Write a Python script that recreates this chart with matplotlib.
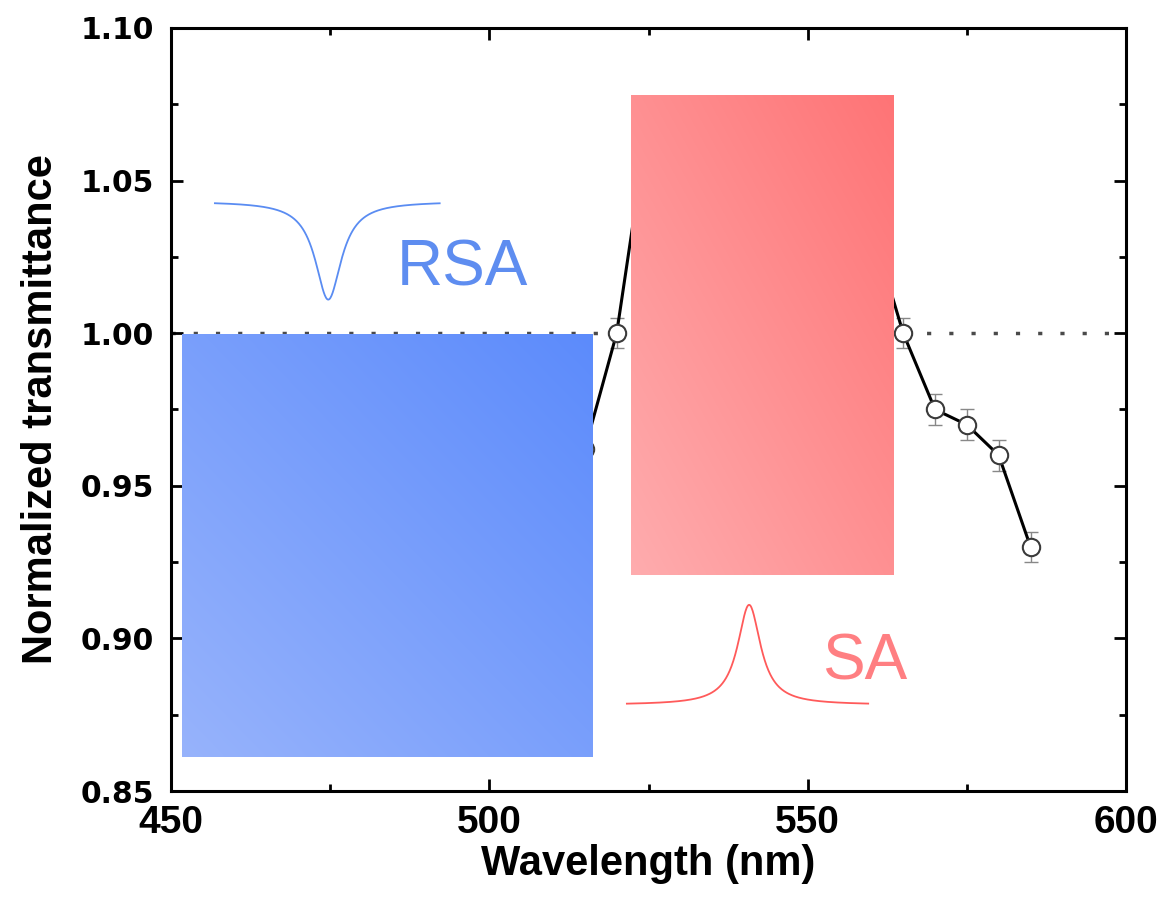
import numpy as np
import matplotlib
matplotlib.use("Agg")
import matplotlib.pyplot as plt
from matplotlib.ticker import MultipleLocator, FormatStrFormatter

# ---------------- data ----------------
wavelength = [455, 460, 465, 470, 475, 480, 485, 490, 495, 500, 505, 510, 515,
              520, 525, 530, 535, 540, 545, 550, 555, 560, 565, 570, 575, 580, 585]
transmittance = [0.985, 0.975, 0.965, 0.955, 0.945, 0.935, 0.93, 0.925, 0.93, 0.935, 0.945, 0.952, 0.962,
                 1.000, 1.070, 1.065, 1.055, 1.050, 1.045, 1.040, 1.040, 1.035, 1.000, 0.975, 0.970, 0.960, 0.930]
error = [0.005] * len(wavelength)

reference_level = 1.00
x_ticks = [450, 500, 550, 600]
y_ticks = [0.85, 0.90, 0.95, 1.00, 1.05, 1.10]

# overlay boxes (data coordinates): x0, x1, y0, y1
rsa_box = (451.7, 516.1, 0.861, 0.9995)
sa_box = (522.2, 563.4, 0.9208, 1.078)
rsa_colors = ("#97b3fb", "#5c8bfc")   # bottom-left, top-right
sa_colors = ("#feacae", "#ff7476")

# schematic Lorentzian icons: center, half width, x-range, baseline, extremum
rsa_icon = dict(center=474.7, hwhm=2.5, x0=456.9, x1=492.2, base=1.0432, tip=1.0110)
sa_icon = dict(center=540.8, hwhm=2.2, x0=521.6, x1=559.5, base=0.8782, tip=0.9110)

# ---------------- figure ----------------
fig = plt.figure(figsize=(11.64, 8.99), dpi=100)
ax = fig.add_axes([0.1469, 0.1201, 0.8205, 0.8488])

ax.axhline(reference_level, color="#4a4a4a", lw=2.5, linestyle=(0, (1.2, 5.2)), zorder=1)

ax.errorbar(wavelength, transmittance, yerr=error, fmt="none", ecolor="#888888",
            elinewidth=1.0, capsize=5, capthick=1.0, zorder=2)
ax.plot(wavelength, transmittance, color="black", lw=2.2, zorder=2)
ax.plot(wavelength, transmittance, linestyle="none", marker="o", markersize=12.5,
        markerfacecolor="white", markeredgecolor="#3a3a3a", markeredgewidth=1.5, zorder=2.5)


def gradient_box(box, colors):
    x0, x1, y0, y1 = box
    n = 200
    u, v = np.meshgrid(np.linspace(0, 1, n), np.linspace(0, 1, n))
    t = (u + v) / 2.0
    c0 = np.array(matplotlib.colors.to_rgb(colors[0]))
    c1 = np.array(matplotlib.colors.to_rgb(colors[1]))
    img = c0[None, None, :] + (c1 - c0)[None, None, :] * t[:, :, None]
    ax.imshow(img, extent=[x0, x1, y0, y1], origin="lower", aspect="auto",
              zorder=3, interpolation="bilinear")


gradient_box(rsa_box, rsa_colors)
gradient_box(sa_box, sa_colors)


def icon(p, color):
    xs = np.linspace(p["x0"], p["x1"], 400)
    prof = 1.0 / (1.0 + ((xs - p["center"]) / p["hwhm"]) ** 2)
    ys = p["base"] + (p["tip"] - p["base"]) * prof
    ax.plot(xs, ys, color=color, lw=1.3, zorder=4)


icon(rsa_icon, "#5a8cf2")
icon(sa_icon, "#ff5a5a")

ax.text(485.4, 1.0155, "RSA", color="#5e8df0", fontsize=46, family="Liberation Sans",
        ha="left", va="baseline", zorder=5)
ax.text(552.2, 0.8864, "SA", color="#ff7f82", fontsize=46, family="Liberation Sans",
        ha="left", va="baseline", zorder=5)

ax.set_xlim(450, 600)
ax.set_ylim(0.85, 1.10)
ax.set_xticks(x_ticks)
ax.set_yticks(y_ticks)
ax.xaxis.set_minor_locator(MultipleLocator(25))
ax.yaxis.set_minor_locator(MultipleLocator(0.025))
ax.yaxis.set_major_formatter(FormatStrFormatter("%.2f"))

ax.tick_params(which="both", direction="in", top=True, right=True, width=2.0, color="black")
ax.tick_params(which="major", length=8.5)
ax.tick_params(which="minor", length=5)
ax.tick_params(axis="x", which="major", pad=10)
ax.tick_params(axis="y", which="major", pad=12)
for lab in ax.get_xticklabels():
    lab.set_fontfamily("Liberation Sans")
    lab.set_fontweight("bold")
    lab.set_fontsize(28)
for lab in ax.get_yticklabels():
    lab.set_fontfamily("DejaVu Sans")
    lab.set_fontweight("bold")
    lab.set_fontsize(21.5)

for s in ax.spines.values():
    s.set_linewidth(2.2)

ax.set_xlabel("Wavelength (nm)", fontsize=30, fontweight="bold", family="Liberation Sans", labelpad=2)
ax.set_ylabel("Normalized transmittance", fontsize=30, fontweight="bold", family="Liberation Sans",
              labelpad=14)

fig.savefig("out.png", dpi=100)
